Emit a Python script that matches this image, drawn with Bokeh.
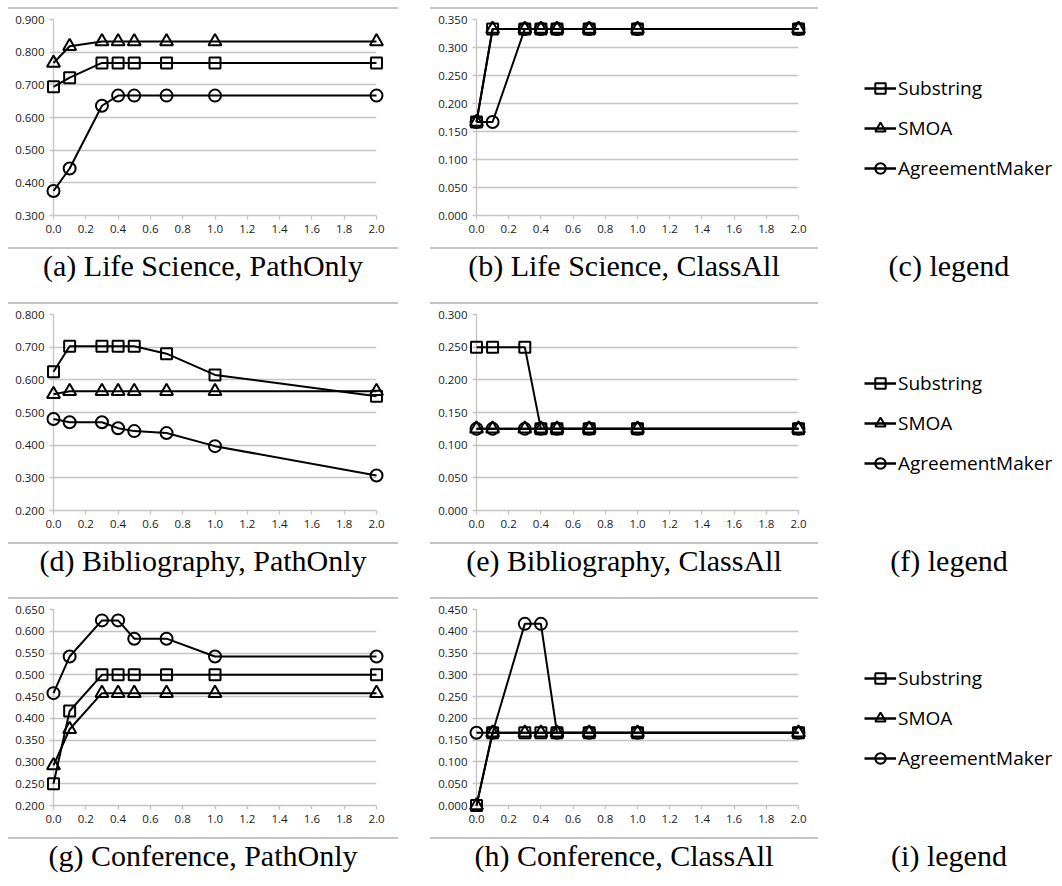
from bokeh.plotting import figure
from bokeh.layouts import column, row, Spacer
from bokeh.models import Range1d, FixedTicker, NumeralTickFormatter, Legend, LegendItem, Div
from bokeh.embed import file_html
from bokeh.resources import INLINE

# ---------------- data ----------------
x_vals = [0.0, 0.1, 0.3, 0.4, 0.5, 0.7, 1.0, 2.0]
x_ticks = [0.0, 0.2, 0.4, 0.6, 0.8, 1.0, 1.2, 1.4, 1.6, 1.8, 2.0]
series_names = ["Substring", "SMOA", "AgreementMaker"]
series_markers = ["square", "triangle", "circle"]

ls_path_substring = [0.694, 0.722, 0.767, 0.767, 0.767, 0.767, 0.767, 0.767]
ls_path_smoa = [0.767, 0.818, 0.833, 0.833, 0.833, 0.833, 0.833, 0.833]
ls_path_am = [0.375, 0.444, 0.636, 0.667, 0.667, 0.667, 0.667, 0.667]
ls_path_yticks = [0.3, 0.4, 0.5, 0.6, 0.7, 0.8, 0.9]

ls_class_substring = [0.167, 0.333, 0.333, 0.333, 0.333, 0.333, 0.333, 0.333]
ls_class_smoa = [0.167, 0.333, 0.333, 0.333, 0.333, 0.333, 0.333, 0.333]
ls_class_am = [0.167, 0.167, 0.333, 0.333, 0.333, 0.333, 0.333, 0.333]
ls_class_yticks = [0.0, 0.05, 0.1, 0.15, 0.2, 0.25, 0.3, 0.35]

bib_path_substring = [0.625, 0.703, 0.703, 0.703, 0.703, 0.680, 0.615, 0.550]
bib_path_smoa = [0.556, 0.565, 0.565, 0.565, 0.565, 0.565, 0.565, 0.565]
bib_path_am = [0.480, 0.470, 0.470, 0.452, 0.443, 0.437, 0.397, 0.307]
bib_path_yticks = [0.2, 0.3, 0.4, 0.5, 0.6, 0.7, 0.8]

bib_class_substring = [0.25, 0.25, 0.25, 0.125, 0.125, 0.125, 0.125, 0.125]
bib_class_smoa = [0.125, 0.125, 0.125, 0.125, 0.125, 0.125, 0.125, 0.125]
bib_class_am = [0.125, 0.125, 0.125, 0.125, 0.125, 0.125, 0.125, 0.125]
bib_class_yticks = [0.0, 0.05, 0.1, 0.15, 0.2, 0.25, 0.3]

conf_path_substring = [0.25, 0.417, 0.5, 0.5, 0.5, 0.5, 0.5, 0.5]
conf_path_smoa = [0.292, 0.375, 0.458, 0.458, 0.458, 0.458, 0.458, 0.458]
conf_path_am = [0.458, 0.542, 0.625, 0.625, 0.583, 0.583, 0.542, 0.542]
conf_path_yticks = [0.2, 0.25, 0.3, 0.35, 0.4, 0.45, 0.5, 0.55, 0.6, 0.65]

conf_class_substring = [0.0, 0.167, 0.167, 0.167, 0.167, 0.167, 0.167, 0.167]
conf_class_smoa = [0.0, 0.167, 0.167, 0.167, 0.167, 0.167, 0.167, 0.167]
conf_class_am = [0.167, 0.167, 0.417, 0.417, 0.167, 0.167, 0.167, 0.167]
conf_class_yticks = [0.0, 0.05, 0.1, 0.15, 0.2, 0.25, 0.3, 0.35, 0.4, 0.45]

captions = [
    ["(a) Life Science, PathOnly", "(b) Life Science, ClassAll", "(c) legend"],
    ["(d) Bibliography, PathOnly", "(e) Bibliography, ClassAll", "(f) legend"],
    ["(g) Conference, PathOnly", "(h) Conference, ClassAll", "(i) legend"],
]

# ---------------- style / layout ----------------
TOP_B = 10
DATA_H = 196
BOT_B = 32
FIG_H = TOP_B + DATA_H + BOT_B
GRID = "#c4c4c4"
TICK_FONT = "Open Sans"
MARKER_SIZE = {"square": 11, "triangle": 13, "circle": 12}


def make_panel(series, yticks, width, left_border, right_border):
    ymin, ymax = yticks[0], yticks[-1]
    xmin, xmax = x_ticks[0], x_ticks[-1]
    p = figure(width=width, height=FIG_H,
               x_range=Range1d(xmin, xmax), y_range=Range1d(ymin, ymax),
               output_backend="svg", toolbar_location=None,
               min_border_left=left_border, min_border_right=right_border,
               min_border_top=TOP_B, min_border_bottom=BOT_B,
               outline_line_color=None, background_fill_color="white",
               border_fill_color="white")
    p.xgrid.visible = False
    p.ygrid[0].ticker = FixedTicker(ticks=yticks)
    p.ygrid[0].grid_line_color = GRID
    p.ygrid[0].grid_line_width = 1.3
    for ys, mk in zip(series, series_markers):
        p.line(x_vals, ys, line_color="black", line_width=2, level="overlay")
        p.scatter(x_vals, ys, marker=mk, size=MARKER_SIZE[mk], fill_color=None,
                  line_color="black", line_width=2, level="overlay")
    for ax in (p.xaxis[0], p.yaxis[0]):
        ax.axis_line_color = GRID
        ax.axis_line_width = 1.3
        ax.major_tick_line_color = GRID
        ax.major_tick_line_width = 1.3
        ax.major_tick_in = 0
        ax.major_tick_out = 4
        ax.minor_tick_line_color = None
        ax.major_label_text_font = TICK_FONT
        ax.major_label_text_font_size = "11.5px"
        ax.major_label_text_color = "#1a1a1a"
        ax.major_label_standoff = 5
    p.xaxis[0].ticker = FixedTicker(ticks=x_ticks)
    p.xaxis[0].formatter = NumeralTickFormatter(format="0.0")
    p.yaxis[0].ticker = FixedTicker(ticks=yticks)
    p.yaxis[0].formatter = NumeralTickFormatter(format="0.000")
    return p


def make_legend_fig(width, series):
    # the legend's own renderers are hidden; only their legend glyphs show
    p = figure(width=width, height=FIG_H, x_range=Range1d(0, 1), y_range=Range1d(0, 1),
               output_backend="svg", toolbar_location=None,
               x_axis_type=None, y_axis_type=None, min_border=0,
               outline_line_color=None)
    p.xgrid.visible = False
    p.ygrid.visible = False
    items = []
    for name, mk, ys in zip(series_names, series_markers, series):
        rl = p.line(x_vals, ys, line_color="black", line_width=2.5, visible=False)
        rs = p.scatter(x_vals, ys, marker=mk, size=10, fill_color=None,
                       line_color="black", line_width=2, visible=False)
        items.append(LegendItem(label=name, renderers=[rl, rs]))
    leg = Legend(items=items, location=(22, FIG_H - 172), orientation="vertical",
                 glyph_width=32, glyph_height=26, label_height=26, spacing=14,
                 padding=0, margin=0, border_line_color=None,
                 background_fill_alpha=0, label_text_font="Open Sans",
                 label_text_font_size="19px", label_standoff=2,
                 label_text_color="black", inactive_fill_alpha=0,
                 click_policy="none")
    p.add_layout(leg)
    return p


def line_div(width):
    return Div(text="", width=width, height=2, margin=0,
               styles={"background-color": "#c4c4c4"})


def blank_div(width):
    return Div(text="", width=width, height=2, margin=0)


def caption_div(text, width, height):
    return Div(text=text, width=width, height=height, margin=0,
               styles={"font-family": "Liberation Serif", "font-size": "30px",
                       "text-align": "center", "color": "black",
                       "line-height": "1.15", "white-space": "nowrap"})


WA, LA, RA = 390, 45, 22
WB, LB, RB = 388, 46, 20
WL = 214
panels = [
    ([ls_path_substring, ls_path_smoa, ls_path_am], ls_path_yticks,
     [ls_class_substring, ls_class_smoa, ls_class_am], ls_class_yticks),
    ([bib_path_substring, bib_path_smoa, bib_path_am], bib_path_yticks,
     [bib_class_substring, bib_class_smoa, bib_class_am], bib_class_yticks),
    ([conf_path_substring, conf_path_smoa, conf_path_am], conf_path_yticks,
     [conf_class_substring, conf_class_smoa, conf_class_am], conf_class_yticks),
]

rows = []
for i, (sa, ya, sb, yb) in enumerate(panels):
    cap_h = 53 if i < 2 else 40
    pa = make_panel(sa, ya, WA, LA, RA)
    pb = make_panel(sb, yb, WB, LB, RB)
    pl = make_legend_fig(WL, sb)
    colA = column(line_div(WA), pa, line_div(WA), caption_div(captions[i][0], WA, cap_h), spacing=0)
    colB = column(line_div(WB), pb, line_div(WB), caption_div(captions[i][1], WB, cap_h), spacing=0)
    colC = column(blank_div(WL), pl, blank_div(WL), caption_div(captions[i][2], WL, cap_h), spacing=0)
    rows.append(row(colA, Spacer(width=32, height=10), colB, Spacer(width=24, height=10), colC, spacing=0))

layout = column(*rows, spacing=0, margin=(7, 0, 0, 8))

open("out.html", "w").write(file_html(layout, INLINE))
